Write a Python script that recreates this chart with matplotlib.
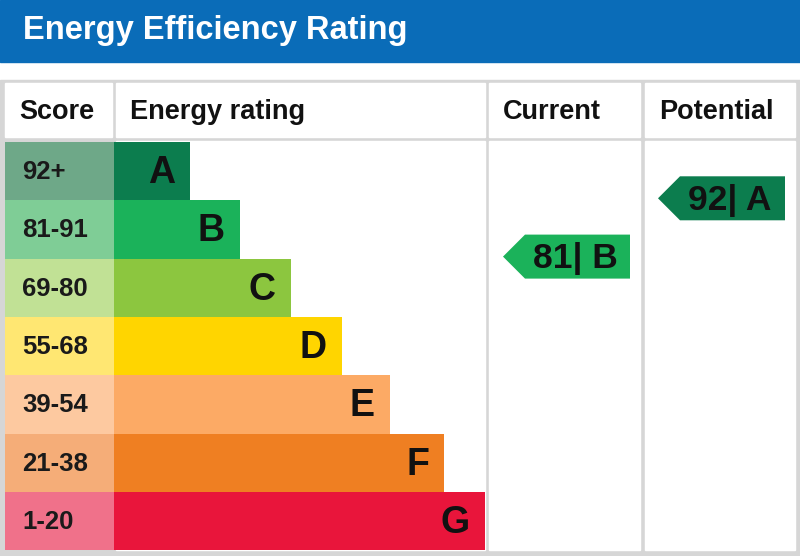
import matplotlib
matplotlib.use("Agg")
import matplotlib.pyplot as plt
from matplotlib.patches import Rectangle, Polygon

plt.rcParams['font.family'] = ['Liberation Sans', 'DejaVu Sans']

# data
title = "Energy Efficiency Rating"
headers = ["Score", "Energy rating", "Current", "Potential"]
bands = ["A", "B", "C", "D", "E", "F", "G"]
score_labels = ["92+", "81-91", "69-80", "55-68", "39-54", "21-38", "1-20"]
band_lo = [92, 81, 69, 55, 39, 21, 1]
band_hi = [100, 91, 80, 68, 54, 38, 20]
bar_len = [76, 126, 177, 228, 276, 330, 371]
bar_colors = ["#0c7d4e", "#1bb25a", "#8cc63f", "#ffd500", "#fcaa65", "#ef7f22", "#e9153b"]
score_colors = ["#6ea888", "#7fcd96", "#c1e195", "#ffe772", "#fdc9a0", "#f5ad78", "#f0718a"]
current_score, current_band = 81, "B"
potential_score, potential_band = 92, "A"

fig = plt.figure(figsize=(8, 5.56), dpi=100)
ax = fig.add_axes([0, 0, 1, 1])
ax.set_xlim(0, 800)
ax.set_ylim(556, 0)
ax.axis('off')

grey = "#d6d6d6"
# title bar
ax.add_patch(Rectangle((0, 0), 800, 62, color="#0a6cb8"))
ax.text(23, 30, title, color="white", fontsize=23.5, fontweight="bold", va="center", ha="left")

# table background + white cells
ax.add_patch(Rectangle((0, 80), 800, 476, color=grey))
cols = [(5, 112), (116, 485), (489, 640), (645, 795)]
for x0, x1 in cols:
    ax.add_patch(Rectangle((x0, 83), x1 - x0, 54, color="white"))
for x0, x1 in cols[1:]:
    ax.add_patch(Rectangle((x0, 141), x1 - x0, 409, color="white"))

for (x0, x1), h in zip(cols, headers):
    ax.text(x0 + 14, 112, h, fontsize=19.5, fontweight="bold",
            va="center", ha="left", color="#111111")

# bands
top, rh = 142, 58.3
for i, b in enumerate(bands):
    y = top + i * rh
    ax.add_patch(Rectangle((5, y), 109, rh, color=score_colors[i], lw=0))
    ax.add_patch(Rectangle((114, y), bar_len[i], rh, color=bar_colors[i], lw=0))
    ax.text(22, y + rh / 2 + 1, score_labels[i], fontsize=18.5, fontweight="bold",
            va="center", ha="left", color="#1a1a1a")
    ax.text(114 + bar_len[i] - 15, y + rh / 2 + 2, b, fontsize=27, fontweight="bold",
            va="center", ha="right", color="#111111")


def arrow(x0, score, band):
    i = bands.index(band)
    frac = (score - band_lo[i]) / (band_hi[i] - band_lo[i] + 1)
    yc = top + (i + 1) * rh - frac * rh - 2
    h = 44
    x1 = x0 + 127
    pts = [(x0, yc), (x0 + 22, yc - h / 2), (x1, yc - h / 2), (x1, yc + h / 2), (x0 + 22, yc + h / 2)]
    ax.add_patch(Polygon(pts, closed=True, color=bar_colors[i], lw=0))
    ax.text(x0 + 72, yc + 2, f"{score}| {band}", fontsize=25.5, fontweight="bold",
            va="center", ha="center", color="#111111")


arrow(503, current_score, current_band)
arrow(658, potential_score, potential_band)

fig.savefig("out.png", dpi=100)
